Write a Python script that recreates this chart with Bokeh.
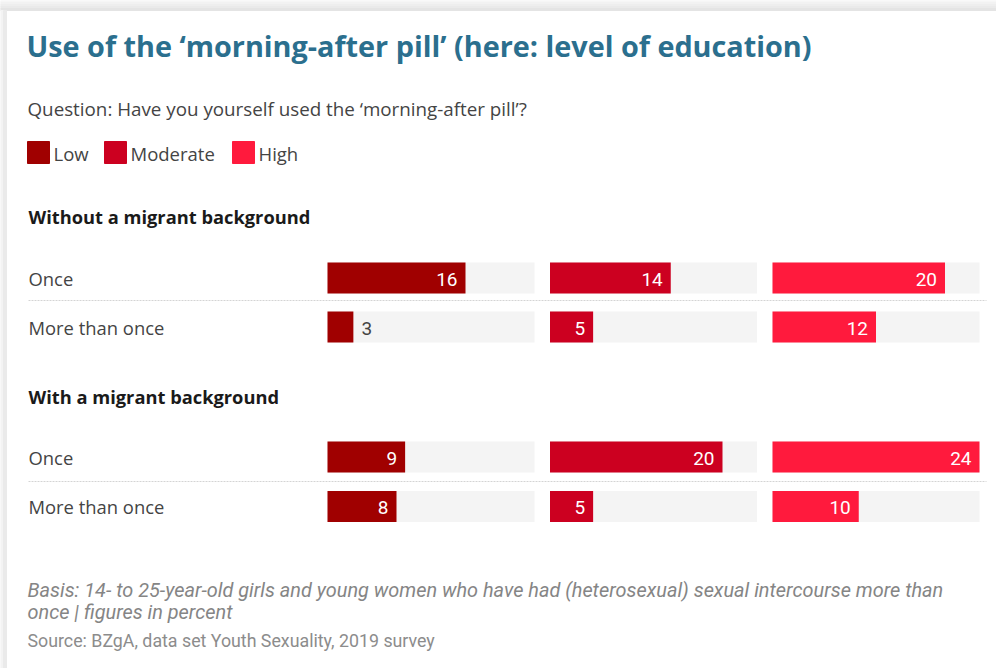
from bokeh.plotting import figure
from bokeh.models import Range1d, Label, ColumnDataSource
from bokeh.embed import file_html
from bokeh.resources import INLINE
from bokeh.core.properties import value

# ---------------- data ----------------
title_text = "Use of the \u2018morning-after pill\u2019 (here: level of education)"
question_text = "Question: Have you yourself used the \u2018morning-after pill\u2019?"
levels = ["Low", "Moderate", "High"]
level_colors = ["#a00000", "#cc0020", "#ff1a3d"]
groups = ["Without a migrant background", "With a migrant background"]
rows = ["Once", "More than once"]
# order: (group0, Once), (group0, More than once), (group1, Once), (group1, More than once)
low = [16, 3, 9, 8]
moderate = [14, 5, 20, 5]
high = [20, 12, 24, 10]
scale_max = 24
basis_line1 = "Basis: 14- to 25-year-old girls and young women who have had (heterosexual) sexual intercourse more than"
basis_line2 = "once | figures in percent"
source_text = "Source: BZgA, data set Youth Sexuality, 2019 survey"

# ---------------- layout ----------------
W, H = 996, 668
PXU = 207.0 / scale_max          # pixels per percent
PANEL0 = 327.0                   # left edge of first panel (px)
STEP = 222.5 / PXU               # panel step in value units
FONT = "Open Sans"

p = figure(width=W, height=H,
           x_range=Range1d(-PANEL0 / PXU, (W - PANEL0) / PXU),
           y_range=Range1d(H, 0),
           x_axis_type=None, y_axis_type=None,
           output_backend="svg", toolbar_location=None, min_border=0)
p.extra_x_ranges = {"px": Range1d(0, W)}
p.grid.visible = False
p.outline_line_color = None
p.background_fill_color = "white"
p.border_fill_color = "white"

# card shadow (top and left)
shade = ["#f6f6f6", "#f2f2f2", "#eeeeee", "#eaeaea", "#e4e4e4"]
for i, c in enumerate(shade):
    p.quad(left=[0], right=[W], top=[2 * i], bottom=[2 * i + 2], color=c, x_range_name="px")
p.quad(left=[0], right=[3], top=[10], bottom=[H], color="#f3f3f3", x_range_name="px")
p.quad(left=[3], right=[6], top=[10], bottom=[H], color="#eaeaea", x_range_name="px")


def label(x, y, text, size, color, style="normal", font=FONT, align="left", baseline="middle"):
    p.add_layout(Label(x=x, y=y, x_range_name="px", text=text, text_font=font,
                       text_font_size=f"{size}px", text_color=color, text_font_style=style,
                       text_align=align, text_baseline=baseline))


label(26, 45, title_text, 28.8, "#2b6f8e", style="bold")
label(27, 108, question_text, 18.8, "#444444")

legend_x = [27, 104, 232]
for lx, name, col in zip(legend_x, levels, level_colors):
    p.quad(left=[lx], right=[lx + 22], top=[141], bottom=[163], color=col, x_range_name="px")
    label(lx + 26, 153, name, 18.5, "#444444")

group_y = [216, 396]
row_y = [[277.5, 326.5], [456.5, 506]]
sep_y = [300, 481]

for gi, g in enumerate(groups):
    label(28, group_y[gi], g, 18.3, "#1a1a1a", style="bold")
    for ri, r in enumerate(rows):
        label(28, row_y[gi][ri], r, 18.4, "#444444")
    p.segment(x0=[28], x1=[986], y0=[sep_y[gi]], y1=[sep_y[gi]], line_color="#d4d4d4",
              line_width=1, line_dash="2 1", x_range_name="px")

ys = [row_y[0][0], row_y[0][1], row_y[1][0], row_y[1][1]]
BAR_H = 31
PAD = 8.0 / PXU

for si, (vals, col) in enumerate(zip([low, moderate, high], level_colors)):
    off = si * STEP
    bg = ColumnDataSource(dict(y=ys, left=[off] * 4, right=[off + scale_max] * 4))
    p.hbar(y="y", left="left", right="right", height=BAR_H, source=bg,
           fill_color="#f4f4f4", line_color=None)
    src = ColumnDataSource(dict(y=ys, left=[off] * 4, right=[off + v for v in vals]))
    p.hbar(y="y", left="left", right="right", height=BAR_H, source=src,
           fill_color=col, line_color=None)
    inside = [i for i, v in enumerate(vals) if v * PXU >= 30]
    outside = [i for i, v in enumerate(vals) if v * PXU < 30]
    if inside:
        p.text(x=[off + vals[i] - PAD for i in inside], y=[ys[i] + 1 for i in inside],
               text=[str(vals[i]) for i in inside], text_color="white",
               text_font=value("Roboto"), text_font_size="19px",
               text_align="right", text_baseline="middle")
    if outside:
        p.text(x=[off + vals[i] + PAD for i in outside], y=[ys[i] + 1 for i in outside],
               text=[str(vals[i]) for i in outside], text_color="#444444",
               text_font=value("Roboto"), text_font_size="19px",
               text_align="left", text_baseline="middle")

label(27, 590, basis_line1, 19.9, "#858585", style="italic", font="Roboto")
label(27, 612, basis_line2, 19.9, "#858585", style="italic", font="Roboto")
label(27, 640, source_text, 17.8, "#8c8c8c", font="Roboto")

open("out.html", "w").write(file_html(p, INLINE))
